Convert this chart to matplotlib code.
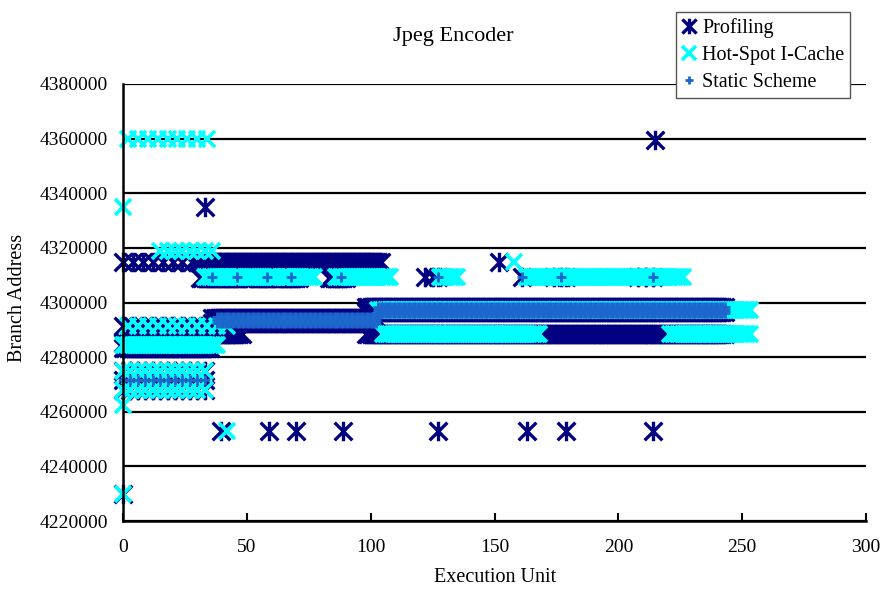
import numpy as np
import matplotlib
matplotlib.use('Agg')
import matplotlib.pyplot as plt
from matplotlib.path import Path

# runs of points: (x_start, x_end, step, address)
prof_runs = [
    (0, 35, 4, 4315000),
    (30, 104, 1, 4315000),
    (31, 49, 1, 4309000), (52, 61, 1, 4309000), (63, 71, 1, 4309000), (83, 90, 1, 4309000),
    (36, 102, 1, 4294500), (36, 102, 1, 4292500),
    (36, 48, 1, 4288500),
    (0, 35, 4, 4291500),
    (0, 35, 1, 4285000), (0, 35, 1, 4283500),
    (0, 34, 3, 4275000), (0, 34, 3, 4271500), (0, 34, 3, 4268000),
    (98, 243, 1, 4298500), (98, 243, 1, 4296500),
    (98, 243, 1, 4288500),
]
prof_x = [0, 33, 215, 39.5, 59, 70, 89, 127, 163, 179, 214, 152,
          122, 125, 127, 161, 174, 177, 179, 208, 211, 214]
prof_y = [4230000, 4335000, 4359500] + [4253000] * 8 + [4315000] + [4309500] * 10

hot_runs = [
    (2, 34, 4, 4360000),
    (15, 35, 3, 4319000),
    (33, 48, 1, 4309500), (50, 62, 1, 4309500), (64, 77, 1, 4309500),
    (86, 108, 1, 4309500), (128, 135, 1, 4309500), (163, 226, 1, 4309500),
    (2, 42, 4, 4291500),
    (0, 38, 1, 4284400),
    (0, 34, 3, 4275000), (0, 34, 3, 4268000),
    (103, 253, 1, 4297300),
    (105, 168, 1, 4288500), (221, 253, 1, 4288500),
]
hot_x = [0, 0, 0, 42, 158]
hot_y = [4230000, 4262500, 4335000, 4253000, 4315000]

stat_runs = [
    (38, 102, 1, 4294800), (38, 102, 1, 4293600), (38, 102, 1, 4292400),
    (103, 243, 1, 4298500), (103, 243, 1, 4297300), (103, 243, 1, 4296100),
    (0, 34, 3, 4271500),
]
stat_x = [36, 46, 58, 68, 88, 127, 161, 177, 214]
stat_y = [4309500] * 9

yticks = list(range(4220000, 4380001, 20000))
xticks = [0, 50, 100, 150, 200, 250, 300]


def expand(runs, xs, ys):
    ax_, ay_ = list(xs), list(ys)
    for x0, x1, st, y in runs:
        pts = np.arange(x0, x1 + st / 2, st)
        ax_ += list(pts)
        ay_ += [y] * len(pts)
    return ax_, ay_


star = Path([(-1, -1), (1, 1), (-1, 1), (1, -1), (0, -1.1), (0, 1.1)],
            [Path.MOVETO, Path.LINETO, Path.MOVETO, Path.LINETO, Path.MOVETO, Path.LINETO])

plt.rcParams['font.family'] = ['Liberation Serif', 'DejaVu Serif']

fig = plt.figure(figsize=(8.86, 5.89), dpi=100)
ax = fig.add_axes([123 / 886, 68 / 589, 743 / 886, 437 / 589])

px, py = expand(prof_runs, prof_x, prof_y)
hx, hy = expand(hot_runs, hot_x, hot_y)
sx, sy = expand(stat_runs, stat_x, stat_y)

ax.plot(px, py, ls='none', marker=star, ms=14, mew=2.4, color='#000080',
        label='Profiling', zorder=3, clip_on=False)
ax.plot(hx, hy, ls='none', marker='x', ms=12, mew=2.6, color='#00FFFF',
        label='Hot-Spot I-Cache', zorder=4, clip_on=False)
ax.plot(sx, sy, ls='none', marker='+', ms=7, mew=2.0, color='#1c66cc',
        label='Static Scheme', zorder=5, clip_on=False)

ax.set_xlim(0, 300)
ax.set_ylim(4220000, 4380000)
ax.set_xticks(xticks)
ax.set_yticks(yticks)
ax.set_yticklabels([str(v) for v in yticks])
ax.tick_params(axis='x', direction='in', length=6, width=1.5, pad=13, labelsize=14)
ax.tick_params(axis='y', direction='in', length=0, pad=11, labelsize=14)
ax.yaxis.grid(True, color='black', lw=1.6)
ax.set_axisbelow(True)
for s in ['top', 'right']:
    ax.spines[s].set_visible(False)
for s in ['left', 'bottom']:
    ax.spines[s].set_linewidth(1.8)
    ax.spines[s].set_zorder(6)

fig.text(453 / 886, 1 - 36 / 589, 'Jpeg Encoder', ha='center', va='center', fontsize=16)
fig.text(495 / 886, 1 - 578 / 589, 'Execution Unit', ha='center', va='center', fontsize=14.5)
fig.text(18 / 886, 1 - 298 / 589, 'Branch Address', ha='center', va='center',
         rotation=90, fontsize=14.5)

leg = fig.legend(loc='upper left', bbox_to_anchor=(676 / 886, 1 - 12 / 589),
                 fontsize=14.5, frameon=True, fancybox=False, framealpha=1,
                 edgecolor='#555555', handlelength=0.7, handletextpad=0.3,
                 labelspacing=0.4, borderpad=0.3, borderaxespad=0, markerscale=0.8)
leg.get_frame().set_linewidth(1.0)
leg.set_zorder(10)

fig.savefig('out.png', dpi=100)
